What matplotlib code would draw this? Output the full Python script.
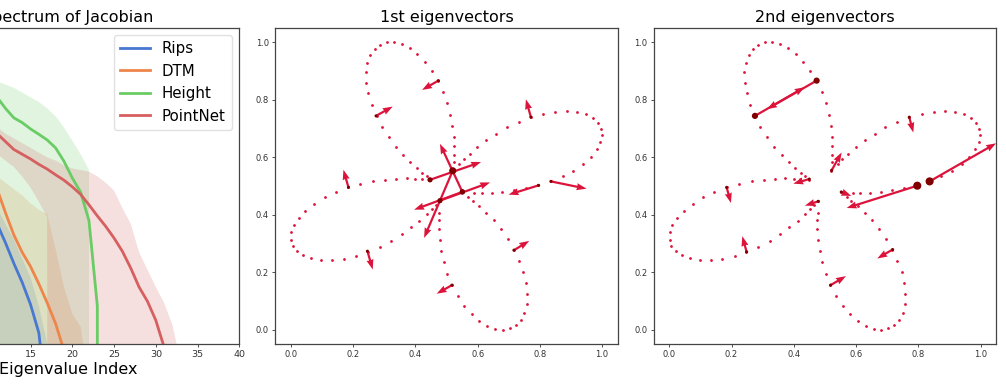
import matplotlib
matplotlib.use("Agg")
import matplotlib.pyplot as plt
import numpy as np

# ---------------- Left panel data (Spectrum of Jacobian) ----------------
rips_x = [1, 2, 3, 4, 5, 6, 7, 8, 9, 10, 11, 12, 13, 14, 15, 16, 17, 18]
rips_y = [0.95, 0.9, 0.85, 0.8, 0.74, 0.68, 0.62, 0.56, 0.5, 0.44, 0.38, 0.32, 0.255, 0.195, 0.125, 0.035, -0.2, -0.5]
rips_lo = [0.8, 0.7, 0.6, 0.4, -100, -100, -100, -100, -100, -100, -100, -100, -100, -100, -100, -100, -100, -100]
rips_hi = [1.0, 0.97, 0.93, 0.88, 0.82, 0.76, 0.70, 0.63, 0.56, 0.49, 0.43, 0.38, 0.33, 0.27, 0.21, 0.12, 0.0, -0.5]

dtm_x = [1, 2, 3, 4, 5, 6, 7, 8, 9, 10, 11, 12, 13, 14, 15, 16, 17, 18, 19, 20, 21, 22]
dtm_y = [0.97, 0.92, 0.87, 0.82, 0.77, 0.72, 0.67, 0.62, 0.58, 0.54, 0.49, 0.415, 0.345, 0.29, 0.245, 0.19, 0.13, 0.065, -0.02, -0.5, -0.5, -0.5]
dtm_lo = [0.85, 0.75, 0.6, 0.4, -100, -100, -100, -100, -100, -100, -100, -100, -100, -100, -100, -100, -100, -100, -100, -100, -100, -100]
dtm_hi = [1.0, 0.98, 0.94, 0.9, 0.85, 0.8, 0.75, 0.7, 0.64, 0.58, 0.53, 0.51, 0.49, 0.47, 0.445, 0.425, 0.41, 0.30, 0.18, 0.095, 0.055, -0.13]

height_x = [1, 2, 3, 4, 5, 6, 7, 8, 9, 10, 11, 12, 13, 14, 15, 16, 17, 18, 19, 20, 21, 22, 23, 24]
height_y = [1.0, 0.98, 0.96, 0.94, 0.92, 0.9, 0.88, 0.86, 0.84, 0.81, 0.78, 0.745, 0.715, 0.70, 0.68, 0.663, 0.645, 0.62, 0.578, 0.525, 0.48, 0.39, 0.12, -100]
height_lo = [0.9, 0.8, 0.7, 0.5, -100, -100, -100, -100, -100, -100, -100, -100, -100, -100, -100, -100, -100, -100, -100, -100, -100, -100, -100, -100]
height_hi = [1.0, 1.0, 1.0, 1.0, 1.0, 0.98, 0.95, 0.92, 0.89, 0.86, 0.83, 0.82, 0.81, 0.795, 0.78, 0.765, 0.745, 0.72, 0.685, 0.643, 0.60, 0.55, -100, -100]

pointnet_x = [1, 2, 3, 4, 5, 6, 7, 8, 9, 10, 11, 12, 13, 14, 15, 16, 17, 18, 19, 20, 21, 22, 23, 24, 25, 26, 27, 28, 29, 30, 31, 32, 33]
pointnet_y = [0.95, 0.91, 0.87, 0.83, 0.8, 0.77, 0.74, 0.72, 0.7, 0.68, 0.665, 0.64, 0.615, 0.60, 0.585, 0.568, 0.553, 0.535, 0.518, 0.497, 0.473, 0.44, 0.405, 0.372, 0.335, 0.293, 0.24, 0.18, 0.135, 0.075, -0.01, -0.5, -0.5]
pointnet_lo = [0.9, 0.85, 0.8, 0.76, 0.72, 0.69, 0.67, 0.65, 0.63, 0.615, 0.60, 0.58, 0.56, 0.53, 0.495, 0.45, 0.40, -100, -100, -100, -100, -100, -100, -100, -100, -100, -100, -100, -100, -100, -100, -100, -100]
pointnet_hi = [1.0, 0.98, 0.95, 0.92, 0.88, 0.84, 0.8, 0.77, 0.74, 0.71, 0.685, 0.665, 0.65, 0.635, 0.62, 0.605, 0.59, 0.58, 0.565, 0.555, 0.55, 0.545, 0.53, 0.51, 0.485, 0.43, 0.38, 0.29, 0.235, 0.18, 0.13, 0.06, -0.06]

series_names = ["Rips", "DTM", "Height", "PointNet"]
series_colors = ["#4878d0", "#ee854a", "#6acc64", "#d65f5f"]
left_xticks = [15, 20, 25, 30, 35, 40]

# ---------------- Point cloud (four petals) ----------------
petal_left_x = [0.4535, 0.4364, 0.4128, 0.3861, 0.3561, 0.323, 0.2866, 0.2481, 0.2096, 0.170, 0.1325, 0.0972,
                0.0662, 0.0405, 0.0202, 0.0063, 0.001, 0.002, 0.0095, 0.0256, 0.047, 0.0758, 0.109, 0.1443,
                0.1839, 0.2235, 0.2652, 0.3037, 0.339, 0.3722, 0.400, 0.4203, 0.466]
petal_left_y = [0.4207, 0.4034, 0.379, 0.356, 0.3329, 0.3097, 0.2889, 0.2704, 0.2566, 0.2473, 0.2427, 0.2427,
                0.2485, 0.2589, 0.2739, 0.2924, 0.3132, 0.3386, 0.3629, 0.3884, 0.4138, 0.4381, 0.460, 0.4786,
                0.4959, 0.5069, 0.5167, 0.5214, 0.5248, 0.5259, 0.5248, 0.5225, 0.435]
petal_top_x = [0.448, 0.4364, 0.4225, 0.4043, 0.3839, 0.3615, 0.3379, 0.3144, 0.293, 0.2759, 0.2599, 0.2491,
               0.2427, 0.2417, 0.2459, 0.2556, 0.2695, 0.2866, 0.308, 0.3315, 0.356, 0.382, 0.406, 0.431,
               0.4535, 0.473, 0.490, 0.503, 0.512, 0.519, 0.523, 0.524, 0.524, 0.524]
petal_top_y = [0.522, 0.535, 0.5462, 0.5629, 0.5826, 0.6069, 0.6358, 0.6682, 0.7052, 0.7433, 0.7826, 0.8219,
               0.8589, 0.8948, 0.9272, 0.9538, 0.9757, 0.9907, 0.999, 1.0, 0.993, 0.980, 0.960, 0.932,
               0.901, 0.866, 0.827, 0.787, 0.746, 0.708, 0.670, 0.637, 0.607, 0.582]
petal_right_x = [0.520, 0.541, 0.556, 0.575, 0.599, 0.628, 0.660, 0.694, 0.733, 0.771, 0.811, 0.849, 0.886,
                 0.919, 0.947, 0.970, 0.986, 0.996, 0.999, 0.994, 0.983, 0.964, 0.939, 0.908, 0.873, 0.835,
                 0.795, 0.755, 0.7165, 0.679, 0.645, 0.614, 0.589]
petal_right_y = [0.5525, 0.576, 0.592, 0.6115, 0.635, 0.658, 0.681, 0.703, 0.721, 0.739, 0.749, 0.757, 0.7595,
                 0.757, 0.749, 0.735, 0.719, 0.699, 0.676, 0.651, 0.6265, 0.600, 0.576, 0.5525, 0.533, 0.5155,
                 0.5017, 0.491, 0.4843, 0.479, 0.4765, 0.4765, 0.4765]
petal_bottom_x = [0.551, 0.570, 0.585, 0.6054, 0.6278, 0.6514, 0.6738, 0.6963, 0.7166, 0.7327, 0.7466, 0.7541,
                  0.7584, 0.7573, 0.7498, 0.7391, 0.723, 0.7027, 0.6813, 0.6567, 0.631, 0.6054, 0.5808, 0.5572,
                  0.5358, 0.5177, 0.5027, 0.4909, 0.4834, 0.4781, 0.4759, 0.4759, 0.477, 0.478]
petal_bottom_y = [0.4786, 0.4624, 0.4485, 0.430, 0.4069, 0.3803, 0.349, 0.3144, 0.2774, 0.2392, 0.1988, 0.1606,
                  0.1236, 0.0889, 0.0589, 0.0346, 0.0172, 0.0045, 0.0, 0.0034, 0.0138, 0.0311, 0.0542, 0.0831,
                  0.1178, 0.1548, 0.1941, 0.2358, 0.2751, 0.3132, 0.349, 0.3815, 0.407, 0.4485]

# ---------------- 1st eigenvector arrows (tail -> tip) ----------------
ev1_tail_x = [0.4738, 0.2737, 0.7712, 0.8354, 0.7958, 0.7166, 0.5177, 0.185, 0.246, 0.447, 0.520, 0.551, 0.479, 0.551]
ev1_tail_y = [0.8659, 0.7433, 0.7387, 0.5155, 0.5017, 0.2762, 0.1548, 0.4947, 0.2727, 0.521, 0.5525, 0.479, 0.4485, 0.479]
ev1_tip_x = [0.4214, 0.3272, 0.7551, 0.9499, 0.6995, 0.7658, 0.4684, 0.1689, 0.263, 0.611, 0.428, 0.479, 0.640, 0.396]
ev1_tip_y = [0.8335, 0.7757, 0.801, 0.4901, 0.4693, 0.3086, 0.1248, 0.556, 0.2092, 0.583, 0.319, 0.646, 0.512, 0.417]
ev1_dot_size = [5, 5, 5, 5, 5, 5, 5, 5, 5, 14, 26, 14, 14, 14]

# ---------------- 2nd eigenvector arrows (tail -> tip) ----------------
ev2_tail_x = [0.2753, 0.4734, 0.8364, 0.7968, 0.771, 0.5216, 0.4498, 0.5526, 0.4787, 0.1843, 0.2485, 0.5184, 0.7175]
ev2_tail_y = [0.7433, 0.8659, 0.5155, 0.5005, 0.7387, 0.5537, 0.5236, 0.4786, 0.4462, 0.4947, 0.2704, 0.1548, 0.2785]
ev2_tip_x = [0.435, 0.314, 1.05, 0.570, 0.784, 0.5537, 0.3985, 0.585, 0.4359, 0.1982, 0.2346, 0.5676, 0.6683]
ev2_tip_y = [0.843, 0.767, 0.648, 0.423, 0.6855, 0.6161, 0.5075, 0.465, 0.431, 0.4404, 0.3248, 0.186, 0.2473]
ev2_dot_size = [20, 20, 34, 34, 5, 5, 5, 5, 5, 5, 5, 5, 5]

W, H = 1006, 389
fig = plt.figure(figsize=(W / 100, H / 100), dpi=100)

spine_col = "#444444"
ax_b, ax_h, ax_w = 1 - 344 / H, 316.3 / H, 342.4 / W
ax1 = fig.add_axes([-103.1 / W, ax_b, ax_w, ax_h])
ax2 = fig.add_axes([275.3 / W, ax_b, ax_w, ax_h])
ax3 = fig.add_axes([653.7 / W, ax_b, ax_w, ax_h])

for ax in (ax1, ax2, ax3):
    for s in ax.spines.values():
        s.set_color(spine_col)
        s.set_linewidth(0.9)
    ax.tick_params(colors="#333333", length=2.5, width=0.6, pad=2)

# Left panel
all_x = [rips_x, dtm_x, height_x, pointnet_x]
all_y = [rips_y, dtm_y, height_y, pointnet_y]
all_lo = [rips_lo, dtm_lo, height_lo, pointnet_lo]
all_hi = [rips_hi, dtm_hi, height_hi, pointnet_hi]
for xs, ys, lo, hi, name, c in zip(all_x, all_y, all_lo, all_hi, series_names, series_colors):
    ax1.fill_between(xs, lo, hi, color=c, alpha=0.2, linewidth=0)
    ax1.plot(xs, ys, color=c, lw=2.0, label=name)
ax1.set_xlim(-1, 40)
ax1.set_ylim(0, 1)
ax1.set_xticks(left_xticks)
ax1.set_yticks([])
ax1.tick_params(axis="x", labelsize=6.8)
ax1.set_title("Spectrum of Jacobian", fontsize=11.5, pad=4)
ax1.set_xlabel("Eigenvalue Index", fontsize=11.5, labelpad=2)
ax1.legend(loc="upper right", fontsize=10.8, framealpha=0.9, edgecolor="#dddddd", handlelength=2.0)

# Point cloud panels
pts_x = petal_left_x + petal_top_x + petal_right_x + petal_bottom_x
pts_y = petal_left_y + petal_top_y + petal_right_y + petal_bottom_y
crimson = "#dc143c"
dark = "#800000"
panels = [
    (ax2, "1st eigenvectors", ev1_tail_x, ev1_tail_y, ev1_tip_x, ev1_tip_y, ev1_dot_size),
    (ax3, "2nd eigenvectors", ev2_tail_x, ev2_tail_y, ev2_tip_x, ev2_tip_y, ev2_dot_size),
]
for ax, title, tx, ty, hx, hy, ds in panels:
    ax.scatter(pts_x, pts_y, s=4, color=crimson, linewidths=0, zorder=2)
    u = [b - a for a, b in zip(tx, hx)]
    v = [b - a for a, b in zip(ty, hy)]
    ax.quiver(tx, ty, u, v, angles="xy", scale_units="xy", scale=1, color=crimson,
              width=0.0065, headwidth=3.2, headlength=4.5, headaxislength=4.2, zorder=3)
    ax.scatter(tx, ty, s=ds, color=dark, linewidths=0, zorder=4)
    ax.set_xlim(-0.05, 1.05)
    ax.set_ylim(-0.05, 1.05)
    ax.set_xticks([0.0, 0.2, 0.4, 0.6, 0.8, 1.0])
    ax.set_yticks([0.0, 0.2, 0.4, 0.6, 0.8, 1.0])
    ax.tick_params(labelsize=6.0)
    ax.set_title(title, fontsize=11.5, pad=4)

fig.savefig("out.png", dpi=100)
